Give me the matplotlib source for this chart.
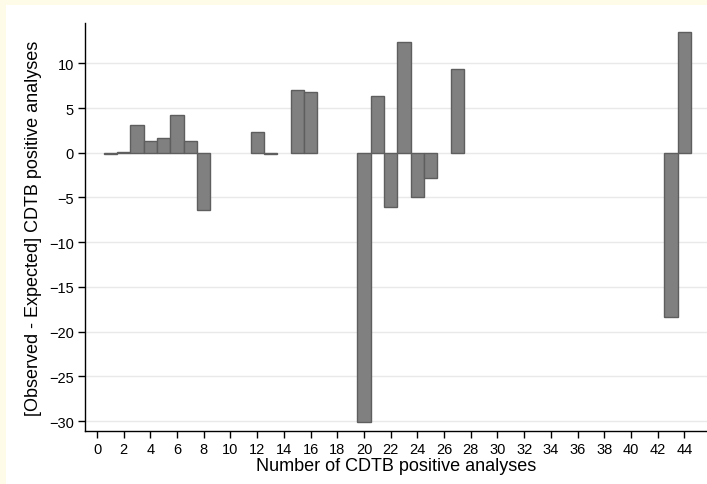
import matplotlib
matplotlib.use('Agg')
import matplotlib.pyplot as plt
from matplotlib.patches import Rectangle

# bars: number of CDTB positive analyses vs [observed - expected]
positions = [1, 2, 3, 4, 5, 6, 7, 8, 12, 13, 15, 16,
             20, 21, 22, 23, 24, 25, 27, 43, 44]
diffs = [-0.1, 0.1, 3.1, 1.3, 1.7, 4.25, 1.3, -6.4, 2.3, -0.1, 7.0, 6.75,
         -30.1, 6.3, -6.1, 12.4, -4.9, -2.8, 9.4, -18.4, 13.45]
xticks = list(range(0, 45, 2))
yticks = [-30, -25, -20, -15, -10, -5, 0, 5, 10]

plt.rcParams['font.family'] = ['Liberation Sans', 'DejaVu Sans']

W, H = 707, 485
cream = '#fffbe9'
fig = plt.figure(figsize=(W / 100, H / 100), dpi=100, facecolor='white')
# cream strips along top and left edge
fig.patches.append(Rectangle((0, 0), 6 / W, 1, transform=fig.transFigure,
                             facecolor=cream, edgecolor='none'))
fig.patches.append(Rectangle((0, 1 - 6 / H), 1, 6 / H, transform=fig.transFigure,
                             facecolor=cream, edgecolor='none'))

ax = fig.add_axes([85 / W, (H - 432) / H, 1 - 85 / W, (432 - 24) / H])
ax.set_facecolor('white')

ax.bar(positions, diffs, width=1.0, color='#808080', edgecolor='#5e5e5e',
       linewidth=1.0, zorder=3)

ax.set_xlim(-0.9, 45.7)
ax.set_ylim(-31.1, 14.5)
ax.set_xticks(xticks)
ax.set_yticks(yticks)
ax.yaxis.grid(True, color='#e9e9e9', linewidth=1.0, zorder=0)
ax.set_axisbelow(True)

for s in ['top', 'right']:
    ax.spines[s].set_visible(False)
for s in ['left', 'bottom']:
    ax.spines[s].set_linewidth(1.0)
    ax.spines[s].set_color('black')

ax.tick_params(axis='both', labelsize=10.5, length=5, width=1, colors='black',
               pad=3)
ax.set_xlabel('Number of CDTB positive analyses', fontsize=13, labelpad=0.5)
ax.set_ylabel('[Observed - Expected] CDTB positive analyses', fontsize=13,
              labelpad=5)

fig.savefig('out.png', dpi=100)
